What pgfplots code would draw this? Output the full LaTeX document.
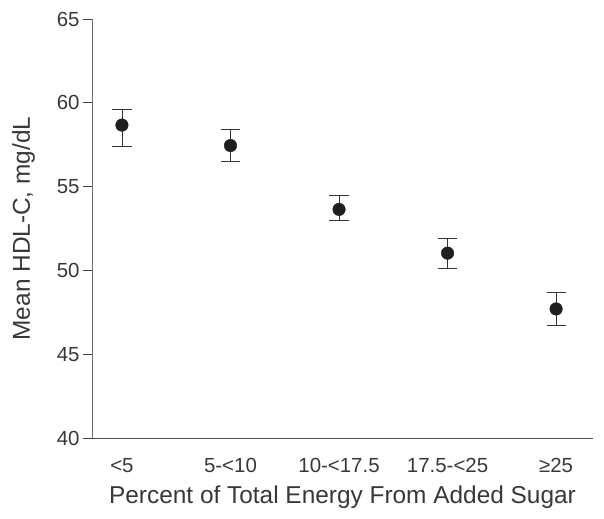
\documentclass[border=0pt]{standalone}
\usepackage{pgfplots}
\pgfplotsset{compat=1.18}
\usepackage{fontspec}
\setmainfont{Liberation Sans}
\definecolor{txt}{HTML}{383838}
\definecolor{axc}{HTML}{707070}
\begin{document}
\begin{tikzpicture}
\begin{axis}[
  scale only axis,
  width=501bp, height=419bp,
  xmin=-0.276, xmax=4.34,
  ymin=40, ymax=65,
  ytick={40,45,...,65},
  xtick={0,1,2,3,4},
  xticklabels={{<5},{5-<10},{10-<17.5},{17.5-<25},{≥25}},
  axis x line=bottom, axis y line=left,
  axis line style={draw=axc, line width=1pt, -},
  x axis line style={draw=black!70},
  xtick style={draw=none},
  ytick style={draw=black!75, line width=0.8pt},
  tick align=outside,
  major tick length=9bp,
  /pgf/number format/assume math mode=true,
  tick label style={font=\fontsize{20.5}{24}\selectfont, text=txt},
  xticklabel style={anchor=base, yshift=-25bp},
  yticklabel style={anchor=east},
  label style={font=\fontsize{24.5}{28}\selectfont, text=txt},
  xlabel={Percent of Total Energy From Added Sugar},
  ylabel={Mean HDL-C, mg/dL},
  xlabel style={at={([yshift=-65bp]axis description cs:0.5,0)}, anchor=base},
  ylabel style={at={([xshift=-62bp]axis description cs:0,0.5)}, anchor=base},
  clip=false,
]
\addplot[only marks, mark=*, mark size=6.3bp,
  mark options={fill=black!88, draw=black!88},
  error bars/.cd, y dir=both, y explicit,
  error bar style={draw=black!80, line width=0.9pt},
  error mark options={rotate=90, mark size=9.6bp, draw=black!80, line width=0.9pt}]
coordinates {
  (0,58.67) += (0,0.95) -= (0,1.26)
  (1,57.45) += (0,0.94) -= (0,0.95)
  (2,53.64) += (0,0.82) -= (0,0.63)
  (3,51.03) += (0,0.85) -= (0,0.94)
  (4,47.70) += (0,0.97) -= (0,1.01)
};
\end{axis}
\pgfresetboundingbox
\path[use as bounding box] ([shift={(-92bp,-81bp)}]current axis.south west)
  rectangle ([shift={(11bp,19bp)}]current axis.north east);
\end{tikzpicture}
\end{document}
